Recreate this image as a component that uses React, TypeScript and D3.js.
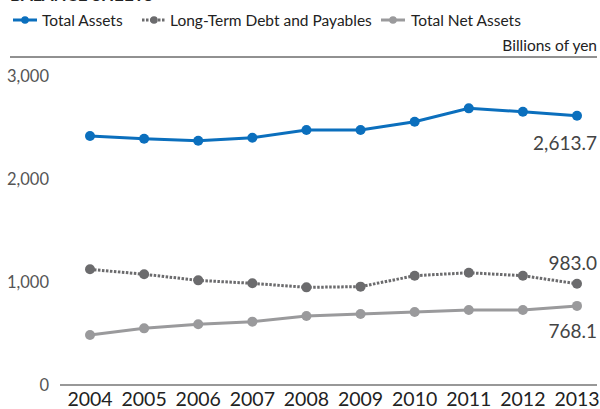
import React from "react";
import * as d3 from "d3";

const years = ["2004","2005","2006","2007","2008","2009","2010","2011","2012","2013"];
const totalAssets = [2417, 2391, 2372, 2401, 2476, 2476, 2556, 2686, 2653, 2613.7];
const longTermDebt = [1123, 1075, 1016, 987, 948, 955, 1061, 1090, 1061, 983.0];
const totalNetAssets = [485, 550, 589, 615, 670, 689, 709, 728, 728, 768.1];
const yTicks = [0, 1000, 2000, 3000];
const seriesNames = ["Total Assets", "Long-Term Debt and Payables", "Total Net Assets"];

const W = 600, H = 409;
const font = "Lato, 'Noto Sans', sans-serif";

export default function App() {
  const x = d3.scalePoint<string>().domain(years).range([90, 577]);
  const y = d3.scaleLinear().domain([0, 3000]).range([385, 76]);
  const line = d3.line<number>().x((_, i) => x(years[i])!).y(d => y(d));

  const series = [
    { name: seriesNames[0], data: totalAssets, color: "#0b6fbd", dash: undefined as string | undefined, r: 5 },
    { name: seriesNames[1], data: longTermDebt, color: "#6b6b6d", dash: "2.5,1.5", r: 5 },
    { name: seriesNames[2], data: totalNetAssets, color: "#9a9a9c", dash: undefined, r: 5 },
  ];

  const legendMarkX = [13, 142, 381];
  const legendTextX = [42, 170, 411];
  const last = years.length - 1;
  const endLabels = [
    { text: d3.format(",.1f")(totalAssets[last]), yy: y(totalAssets[last]) + 34 },
    { text: d3.format(",.1f")(longTermDebt[last]), yy: y(longTermDebt[last]) - 14 },
    { text: d3.format(",.1f")(totalNetAssets[last]), yy: y(totalNetAssets[last]) + 32 },
  ];

  return (
    <svg width={W} height={H} style={{ position: "absolute", left: 0, top: 0, background: "#fff" }} fontFamily={font}>
      <text x={10} y={0.5} fontSize={17} fontWeight="bold" fill="#222">BALANCE SHEETS</text>
      {series.map((s, i) => (
        <g key={s.name}>
          <line x1={legendMarkX[i]} x2={legendMarkX[i] + 24} y1={20} y2={20} stroke={s.color} strokeWidth={3} strokeDasharray={s.dash} />
          <circle cx={legendMarkX[i] + 12} cy={20} r={3.8} fill={s.color} />
          <text x={legendTextX[i]} y={25.5} fontSize={15.5} fill="#222">{s.name}</text>
        </g>
      ))}
      <text x={597} y={51} fontSize={15.5} fill="#222" textAnchor="end">Billions of yen</text>
      <line x1={10} x2={597} y1={57} y2={57} stroke="#222" strokeWidth={1} />
      {yTicks.map(t => (
        <text key={t} x={49} y={y(t) + 6} fontSize={16.5} fill="#555" textAnchor="end">{d3.format(",")(t)}</text>
      ))}
      <line x1={60} x2={597} y1={385} y2={385} stroke="#333" strokeWidth={1.2} />
      {years.map(yr => (
        <text key={yr} x={x(yr)} y={406} fontSize={19.5} fill="#222" textAnchor="middle">{yr}</text>
      ))}
      {series.map(s => (
        <g key={s.name}>
          <path d={line(s.data)!} fill="none" stroke={s.color} strokeWidth={3} strokeDasharray={s.dash} />
          {s.data.map((v, i) => (
            <circle key={i} cx={x(years[i])} cy={y(v)} r={s.r} fill={s.color} />
          ))}
        </g>
      ))}
      {endLabels.map(l => (
        <text key={l.text} x={597} y={l.yy} fontSize={19} fill="#444" textAnchor="end">{l.text}</text>
      ))}
    </svg>
  );
}
